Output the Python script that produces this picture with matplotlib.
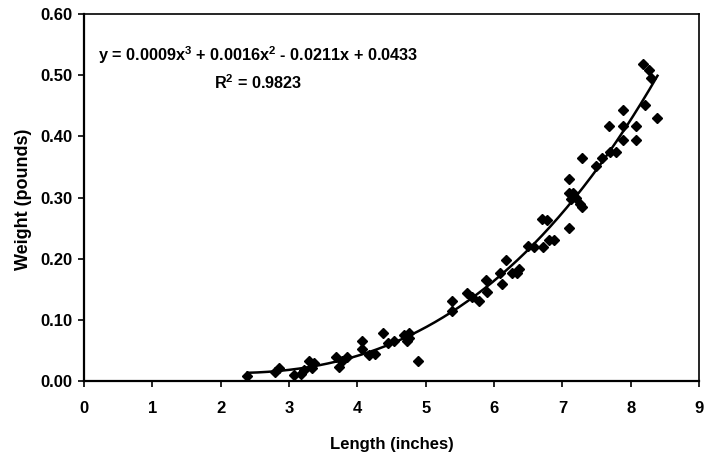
import matplotlib
matplotlib.use('Agg')
from matplotlib import pyplot as plt
import numpy as np

plt.rcParams['font.family'] = ['Liberation Sans', 'DejaVu Sans']
plt.rcParams['font.weight'] = 'bold'
plt.rcParams['mathtext.fontset'] = 'custom'
plt.rcParams['mathtext.rm'] = 'Liberation Sans:bold'
plt.rcParams['mathtext.default'] = 'rm'

# fish length (inches) and weight (pounds)
length = [2.39, 2.80, 2.85, 3.07, 3.17, 3.22, 3.29, 3.37, 3.33,
          3.68, 3.73, 3.78, 3.85, 4.07, 4.07, 4.17, 4.26, 4.38,
          4.45, 4.53, 4.68, 4.76, 4.76, 4.72, 4.89,
          5.38, 5.38, 5.60, 5.68, 5.78, 5.88, 5.89, 6.09, 6.12,
          6.17, 6.26, 6.37, 6.34, 6.50, 6.59, 6.71, 6.70, 6.78,
          6.81, 6.88,
          7.10, 7.10, 7.12, 7.16, 7.20, 7.25, 7.29, 7.10, 7.29,
          7.49, 7.58, 7.70, 7.78, 7.68, 7.88, 7.88, 8.08, 8.08,
          7.88, 8.20, 8.39, 8.18, 8.27, 8.29]
weight = [0.008, 0.015, 0.022, 0.010, 0.012, 0.018, 0.033, 0.030, 0.022,
          0.040, 0.023, 0.033, 0.040, 0.066, 0.053, 0.043, 0.044, 0.078,
          0.063, 0.066, 0.075, 0.070, 0.079, 0.065, 0.033,
          0.131, 0.115, 0.144, 0.137, 0.131, 0.165, 0.146, 0.176, 0.158,
          0.198, 0.176, 0.183, 0.176, 0.221, 0.219, 0.220, 0.265, 0.263,
          0.230, 0.230,
          0.330, 0.308, 0.298, 0.308, 0.299, 0.290, 0.285, 0.250, 0.364,
          0.352, 0.364, 0.375, 0.375, 0.417, 0.443, 0.417, 0.417, 0.395,
          0.395, 0.452, 0.431, 0.518, 0.508, 0.496]

eq_text = 'y = 0.0009x$^3$ + 0.0016x$^2$ - 0.0211x + 0.0433'
r2_text = 'R$^2$ = 0.9823'

fig = plt.figure(figsize=(7.12, 4.58), dpi=100)
ax = fig.add_axes([0.118, 0.168, 0.864, 0.801])

ax.plot(length, weight, 'kD', markersize=5.5, linestyle='none')

# cubic trendline
coef = np.polyfit(length, weight, 3)
xs = np.linspace(min(length), max(length), 200)
ax.plot(xs, np.polyval(coef, xs), 'k-', linewidth=1.8)

ax.set_xlim(0, 9)
ax.set_ylim(0, 0.6)
ax.set_xticks(range(10))
ax.set_yticks(np.arange(0, 0.61, 0.1))
ax.set_yticklabels(['%.2f' % v for v in np.arange(0, 0.61, 0.1)])
ax.tick_params(direction='out', length=4, width=1.2, labelsize=12)
ax.tick_params(axis='x', pad=10)
ax.tick_params(axis='y', pad=4.5)

for s in ['left', 'bottom']:
    ax.spines[s].set_linewidth(1.6)
for s in ['top', 'right']:
    ax.spines[s].set_linewidth(1.2)

ax.text(2.55, 0.533, eq_text, ha='center', va='center', fontsize=11.7, fontweight='bold')
ax.text(2.55, 0.4886, r2_text, ha='center', va='center', fontsize=11.7, fontweight='bold')

ax.set_xlabel('Length (inches)', fontsize=12, fontweight='bold')
ax.set_ylabel('Weight (pounds)', fontsize=13, fontweight='bold')
ax.xaxis.label.set_va('center')
ax.yaxis.label.set_va('center')
ax.xaxis.set_label_coords(0.5, -0.172)
ax.yaxis.set_label_coords(-0.0976, 0.496)

fig.savefig('out.png', dpi=100)
